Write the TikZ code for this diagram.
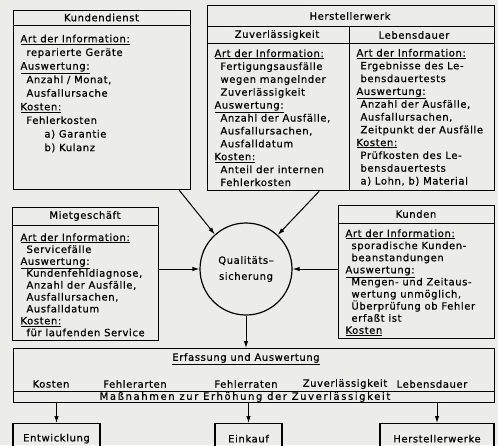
\documentclass[tikz,border=0pt]{standalone}
\usepackage{fontspec}
\setmainfont{DejaVu Sans}[LetterSpace=6, FakeBold=0.6]
\usetikzlibrary{arrows.meta}
\definecolor{paper}{RGB}{236,236,232}
\newcommand\hd[1]{\underline{#1}}
\newcommand\ind{\hspace*{6pt}}
\begin{document}
\begin{tikzpicture}[x=1pt, y=-1pt, line width=1pt,
	panel/.style={draw, line width=1.3pt, anchor=north west, inner sep=0pt},
	txt/.style={anchor=north west, align=left, inner sep=0pt, font=\fontsize{10}{#1}\selectfont},
	ttl/.style={inner sep=0pt, font=\fontsize{10}{12}\selectfont},
	arr/.style={-{Latex[length=7pt,width=4.5pt]}, line width=1pt}]
	\useasboundingbox (0,0) rectangle (498,445);
	\clip (0,0) rectangle (498,445);
	\fill[paper] (0,0) rectangle (498,445);
	% Kundendienst
	\node[panel, minimum width=177pt, minimum height=179pt] (kd) at (13,10) {};
	\draw (13,25) -- (190,25);
	\node[ttl] (kdh) at (101.5,17.5) {Kundendienst};
	\node[txt=13.6] (kdt) at (20,34.2) {\hd{Art der Information:}\\
		\ind reparierte Geräte\\
		\hd{Auswertung:}\\
		\ind Anzahl / Monat,\\
		\ind Ausfallursache\\
		\hd{Kosten:}\\
		\ind Fehlerkosten\\
		\hspace*{24pt}a) Garantie\\
		\hspace*{24pt}b) Kulanz};
	% Herstellerwerk
	\node[panel, minimum width=287pt, minimum height=185pt] (hw) at (207,5) {};
	\draw (207,26) -- (494,26);
	\draw (207,43) -- (494,43);
	\draw (349,26) -- (349,190);
	\node[ttl] (hwh) at (350,16) {Herstellerwerk};
	\node[ttl] (hwz) at (277,35) {Zuverlässigkeit};
	\node[ttl] (hwl) at (414,35) {Lebensdauer};
	\node[txt=12.9] (hwzt) at (214,48.9) {\hd{Art der Information:}\\
		\ind Fertigungsausfälle\\
		\ind wegen mangelnder\\
		\ind Zuverlässigkeit\\
		\hd{Auswertung:}\\
		\ind Anzahl der Ausfälle,\\
		\ind Ausfallursachen,\\
		\ind Ausfalldatum\\
		\hd{Kosten:}\\
		\ind Anteil der internen\\
		\ind Fehlerkosten};
	\node[txt=12.8] (hwlt) at (356,48.4) {\hd{Art der Information:}\\
		\hspace*{4pt}Ergebnisse des Le-\\
		\hspace*{4pt}bensdauertests\\
		\hd{Auswertung:}\\
		\hspace*{4pt}Anzahl der Ausfälle,\\
		\hspace*{4pt}Ausfallursachen,\\
		\hspace*{4pt}Zeitpunkt der Ausfälle\\
		\hd{Kosten:}\\
		\hspace*{4pt}Prüfkosten des Le-\\
		\hspace*{4pt}bensdauertests\\
		\hspace*{4pt}a) Lohn, b) Material};
	% Mietgeschaeft
	\node[panel, minimum width=146pt, minimum height=133pt] (mg) at (12,207) {};
	\draw (12,225) -- (158,225);
	\node[ttl] (mgh) at (85,216) {Mietgeschäft};
	\node[txt=11.9] (mgt) at (20,232.9) {\hd{Art der Information:}\\
		\ind Servicefälle\\
		\hd{Auswertung:}\\
		\ind Kundenfehldiagnose,\\
		\ind Anzahl der Ausfälle,\\
		\ind Ausfallursachen,\\
		\ind Ausfalldatum\\
		\hd{Kosten:}\\
		\ind für laufenden Service};
	% Kunden
	\node[panel, minimum width=156pt, minimum height=133pt] (ku) at (338,205) {};
	\draw (338,223) -- (494,223);
	\node[ttl] (kuh) at (416,214) {Kunden};
	\node[txt=12.1] (kut) at (345,228.9) {\hd{Art der Information:}\\
		\ind sporadische Kunden-\\
		\ind beanstandungen\\
		\hd{Auswertung:}\\
		\ind Mengen- und Zeitaus-\\
		\ind wertung unmöglich,\\
		\ind Überprüfung ob Fehler\\
		\ind erfaßt ist\\
		\hd{Kosten}};
	% Mitte
	\node[draw, circle, line width=1.2pt, minimum size=92pt, inner sep=0pt, align=center,
		font=\fontsize{10}{16}\selectfont] (qs) at (246,269) {Qualitäts–\\sicherung};
	\draw[arr] ([xshift=-12pt]kd.south east) -- (qs.132);
	\draw[arr] ([xshift=-32pt]hw.south) -- (qs.47);
	\draw[arr] (mg.east |- qs.west) -- (qs.west);
	\draw[arr] (ku.west |- qs.east) -- (qs.east);
	% Erfassung und Auswertung
	\node[panel, minimum width=481pt, minimum height=54pt] (ea) at (13,348) {};
	\draw (13,391) -- (494,391);
	\draw[arr] (qs.south) -- (qs.south |- ea.north);
	\node[ttl] (eah) at (246,359) {\hd{Erfassung und Auswertung}};
	\foreach \x/\t [count=\i] in {51/Kosten, 135/Fehlerarten, 246/Fehlerraten, 345/Zuverlässigkeit, 432/Lebensdauer}
		\node[ttl] (ea\i) at (\x,384) {\t};
	\node[ttl] (eam) at (245,397) {\addfontfeature{LetterSpace=16}Maßnahmen zur Erhöhung der Zuverlässigkeit};
	% Empfaenger
	\node[panel, anchor=north, minimum width=87pt, minimum height=30pt, font=\fontsize{10}{12}\selectfont] (ew) at (56.5,423) {Entwicklung};
	\node[panel, anchor=north, minimum width=67pt, minimum height=30pt, font=\fontsize{10}{12}\selectfont] (ek) at (248.5,423) {Einkauf};
	\node[panel, anchor=north, minimum width=114pt, minimum height=30pt, font=\fontsize{10}{12}\selectfont] (hs) at (437,423) {Herstellerwerke};
	\foreach \n in {ew,ek,hs}
		\draw[arr] (\n.north |- ea.south) -- (\n.north);
\end{tikzpicture}
\end{document}
